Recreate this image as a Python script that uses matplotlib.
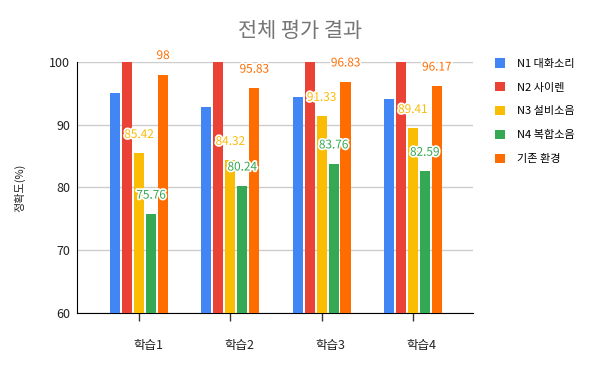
import numpy as np
import matplotlib
matplotlib.use("Agg")
import matplotlib.pyplot as plt
import matplotlib.patheffects as pe

plt.rcParams['font.family'] = ['Noto Sans CJK KR', 'DejaVu Sans']

# -------------------- data --------------------
categories = ["학습1", "학습2", "학습3", "학습4"]
series_names = ["N1 대화소리", "N2 사이렌", "N3 설비소음", "N4 복합소음", "기존 환경"]
n1 = [95.1, 92.9, 94.4, 94.1]
n2 = [100, 100, 100, 100]
n3 = [85.42, 84.32, 91.33, 89.41]
n4 = [75.76, 80.24, 83.76, 82.59]
base = [98, 95.83, 96.83, 96.17]
yticks = [60, 70, 80, 90, 100]

colors = ["#4285F4", "#EA4335", "#FBBC04", "#34A853", "#FF6D01"]
all_series = [n1, n2, n3, n4, base]
show_labels = [False, False, True, True, True]

# -------------------- plot --------------------
fig = plt.figure(figsize=(6, 3.71), dpi=100)
ax = fig.add_axes([77 / 600, 1 - 313 / 371, 396 / 600, 251 / 371])

x = np.arange(len(categories))
pitch = 0.1314
width = 0.11
handles = []
for i, (vals, col, name) in enumerate(zip(all_series, colors, series_names)):
    pos = x + (i - 2) * pitch
    bars = ax.bar(pos, vals, width=width, color=col, label=name, zorder=3)
    handles.append(bars)
    if show_labels[i]:
        for px, v in zip(pos, vals):
            txt = ax.annotate(f"{v:g}", (px, v), xytext=(0, 19), textcoords="offset pixels",
                              ha="center", va="center", fontsize=8.5, color=col, zorder=5)
            txt.set_path_effects([pe.withStroke(linewidth=2.5, foreground="white")])

ax.set_ylim(60, 100)
ax.set_xlim(-0.68, 3.66)
ax.set_yticks(yticks)
ax.set_xticks(x)
ax.set_xticklabels([])
ax.grid(axis="y", color="#cccccc", linewidth=1, zorder=0)
ax.tick_params(axis="y", length=0, labelsize=9, pad=5, labelcolor="#222222")
ax.tick_params(axis="x", direction="inout", length=12, width=1, color="#333333")
for s in ["top", "right"]:
    ax.spines[s].set_visible(False)
ax.spines["left"].set_color("#000000")
ax.spines["bottom"].set_color("#000000")

# category labels sit a bit right of the ticks
for xi, c in zip(x, categories):
    ax.annotate(c, (xi, 60), xytext=(9, -32), textcoords="offset pixels",
                ha="center", va="center", fontsize=9, color="#222222")

ax.set_ylabel("정확도(%)", fontsize=8, color="#222222")
ax.yaxis.set_label_coords(-0.131, 0.5)
fig.text(0.5, 1 - 31 / 371, "전체 평가 결과", ha="center", va="center",
         fontsize=15, color="#757575")

fig.legend(handles=handles, labels=series_names, loc="upper left",
           bbox_to_anchor=(491 / 600, 1 - 54 / 371), frameon=False, fontsize=8,
           handlelength=0.9, handleheight=0.9, handletextpad=1.0, labelspacing=1.2,
           borderaxespad=0)

plt.savefig("out.png", dpi=100)
